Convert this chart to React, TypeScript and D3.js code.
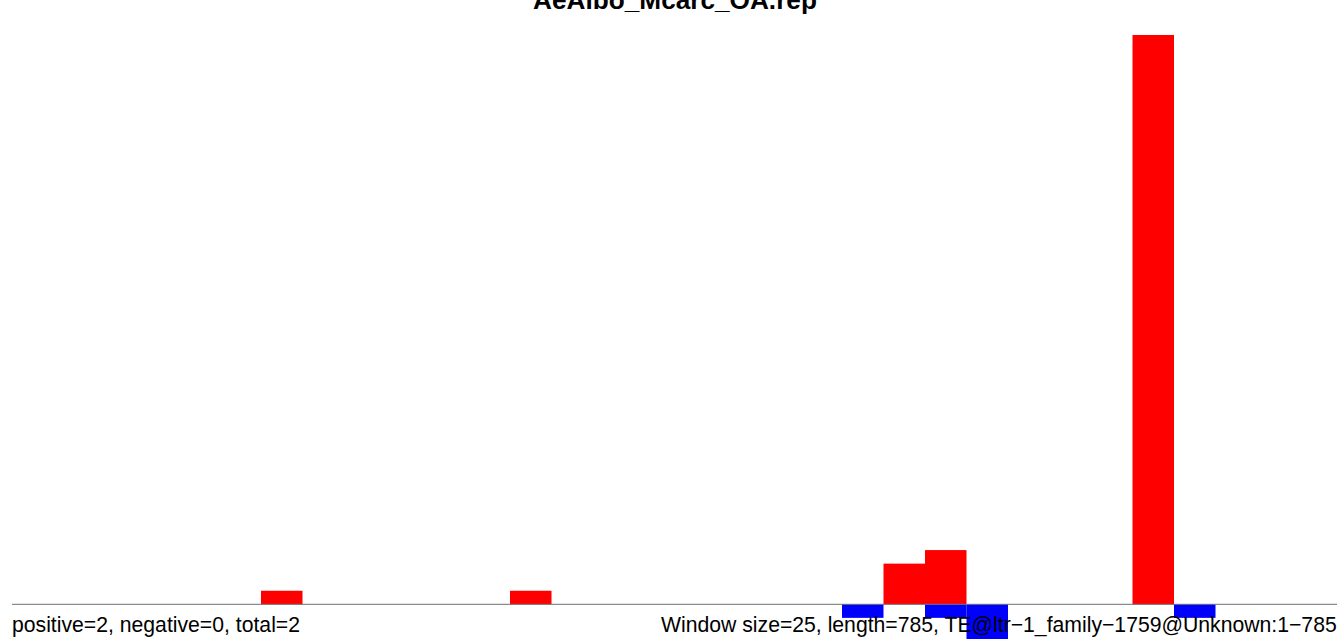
import React from "react";
import * as d3 from "d3";

const title = "AeAlbo_Mcarc_OA.rep";
const leftNote = "positive=2, negative=0, total=2";
const rightNote = "Window size=25, length=785, TE@ltr\u22121_family\u22121759@Unknown:1\u2212785";
const windowSize = 25;
const posBins = [6, 12, 21, 22, 27];
const posCounts = [1, 1, 3, 4, 42];
const negBins = [20, 22, 23, 28];
const negCounts = [-1, -1, -3, -1];

export default function App() {
  const W = 1337, H = 639;
  const x = d3.scaleLinear().domain([0, 800]).range([12, 1340]);
  const y = d3.scaleLinear().domain([0, 42]).range([604.3, 35]);
  const font = "'Liberation Sans', Arial, Helvetica, sans-serif";
  return (
    <svg width={W} height={H} style={{ position: "absolute", left: 0, top: 0 }}>
      <rect width={W} height={H} fill="#fff" />
      {posBins.map((b, i) => (
        <rect key={"p" + i} x={x(b * windowSize)} width={x((b + 1) * windowSize) - x(b * windowSize)}
          y={y(posCounts[i])} height={y(0) - y(posCounts[i])} fill="#ff0000" />
      ))}
      {negBins.map((b, i) => (
        <rect key={"n" + i} x={x(b * windowSize)} width={x((b + 1) * windowSize) - x(b * windowSize)}
          y={y(0)} height={y(negCounts[i]) - y(0)} fill="#0000ff" />
      ))}
      <line x1={12} x2={W} y1={y(0)} y2={y(0)} stroke="#6e6e6e" strokeWidth={1} />
      <text x={675} y={9} textAnchor="middle" fontFamily={font} fontWeight="bold" fontSize={26.2} fill="#000">{title}</text>
      <text x={12} y={632} fontFamily={font} fontSize={21.2} fill="#000">{leftNote}</text>
      <text x={661} y={632} fontFamily={font} fontSize={21.2} fill="#000">{rightNote}</text>
    </svg>
  );
}
